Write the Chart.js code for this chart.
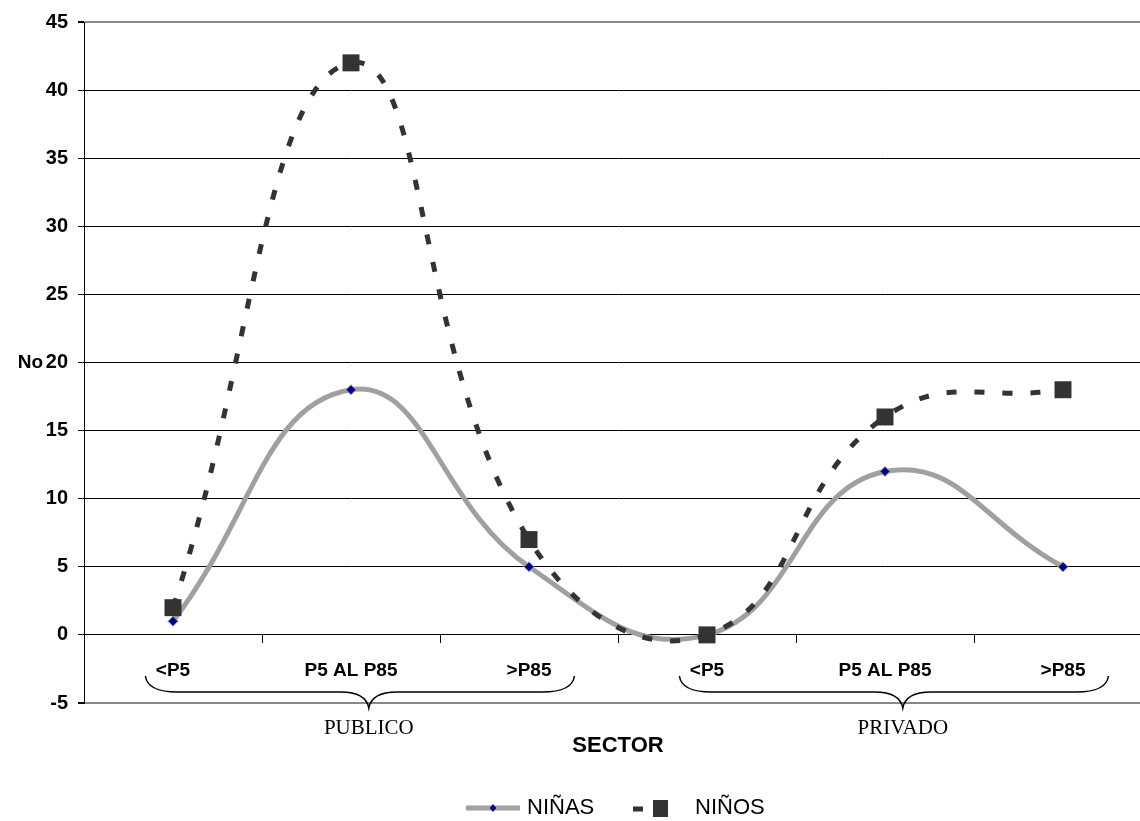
<!DOCTYPE html>
<html>
<head>
<meta charset="utf-8">
<title>NIÑAS / NIÑOS por sector</title>
<script src="https://cdn.jsdelivr.net/npm/chart.js@4.4.1/dist/chart.umd.min.js"></script>
<style>
  html, body { margin:0; padding:0; background:#fff; overflow:hidden; }
  #wrap { position:relative; width:1164px; height:821px; }
</style>
</head>
<body>
<div id="wrap"><canvas id="chart"></canvas></div>
<script>
// data
const categories = ['<P5', 'P5 AL P85', '>P85', '<P5', 'P5 AL P85', '>P85'];
const groups = ['PUBLICO', 'PRIVADO'];
const groupRanges = [[0, 1, 2], [3, 4, 5]];
const ninas = [1, 18, 5, 0, 12, 5];
const ninos = [2, 42, 7, 0, 16, 18];
const yMin = -5, yMax = 45, yStep = 5;

const SANS = '"Liberation Sans", Arial, sans-serif';
const SERIF = '"Liberation Serif", "Times New Roman", serif';
const GRAY = '#a0a0a0';
const DARK = '#333333';
const NAVY = '#00008b';

// curly brace under a group of categories
function drawBrace(ctx, x0, x1, tip, yTop, yMid, yTip){
  ctx.beginPath();
  ctx.moveTo(x0, yTop);
  ctx.quadraticCurveTo(x0 + 2, yMid, x0 + 32, yMid);
  ctx.lineTo(tip - 28, yMid);
  ctx.quadraticCurveTo(tip - 3, yMid, tip, yTip);
  ctx.quadraticCurveTo(tip + 3, yMid, tip + 28, yMid);
  ctx.lineTo(x1 - 32, yMid);
  ctx.quadraticCurveTo(x1 - 2, yMid, x1, yTop);
  ctx.stroke();
}

const extras = {
  id: 'extras',
  afterDraw(chart){
    const ctx = chart.ctx;
    const x = chart.scales.x;
    const y = chart.scales.y;
    const step = x.getPixelForValue(1) - x.getPixelForValue(0);
    ctx.save();

    // braces + group names
    ctx.strokeStyle = '#000';
    ctx.lineWidth = 1.5;
    groupRanges.forEach((r, i) => {
      const x0 = x.getPixelForValue(r[0]) - 0.155 * step;
      const x1 = x.getPixelForValue(r[2]) + 0.255 * step;
      const tip = x.getPixelForValue(r[1]) + 0.1 * step;
      drawBrace(ctx, x0, x1, tip, 676, 692, 708);
      ctx.fillStyle = '#000';
      ctx.font = '21px ' + SERIF;
      ctx.textAlign = 'center';
      ctx.textBaseline = 'middle';
      ctx.fillText(groups[i], tip, 728);
    });

    // axis titles
    ctx.fillStyle = '#000';
    ctx.font = 'bold 22px ' + SANS;
    ctx.textAlign = 'center';
    ctx.textBaseline = 'middle';
    ctx.fillText('SECTOR', 618, 746);
    ctx.font = 'bold 19px ' + SANS;
    ctx.textAlign = 'right';
    ctx.fillText('No', 43, y.getPixelForValue(20));

    // legend
    const ly = 808;
    ctx.strokeStyle = GRAY;
    ctx.lineWidth = 5;
    ctx.beginPath(); ctx.moveTo(466, ly); ctx.lineTo(520, ly); ctx.stroke();
    ctx.fillStyle = NAVY;
    ctx.strokeStyle = GRAY;
    ctx.lineWidth = 1;
    ctx.beginPath();
    ctx.moveTo(493, ly - 4); ctx.lineTo(497, ly); ctx.lineTo(493, ly + 4); ctx.lineTo(489, ly);
    ctx.closePath(); ctx.fill(); ctx.stroke();

    ctx.strokeStyle = DARK;
    ctx.lineWidth = 5;
    ctx.setLineDash([10, 10]);
    ctx.beginPath(); ctx.moveTo(633, ly + 1); ctx.lineTo(671, ly + 1); ctx.stroke();
    ctx.setLineDash([]);
    ctx.fillStyle = DARK;
    ctx.fillRect(653, ly - 8, 15, 17);

    ctx.fillStyle = '#000';
    ctx.font = '22px ' + SANS;
    ctx.textAlign = 'left';
    ctx.textBaseline = 'middle';
    ctx.fillText('NIÑAS', 527, ly);
    ctx.fillText('NIÑOS', 695, ly);
    ctx.restore();
  }
};

const chart = new Chart(document.getElementById('chart'), {
  type: 'line',
  data: {
    labels: categories,
    datasets: [
      {
        label: 'NIÑAS', data: ninas, order: 1,
        borderColor: GRAY, borderWidth: 5, tension: 0.45,
        pointStyle: 'rectRot', pointRadius: 5, pointHoverRadius: 5,
        pointBackgroundColor: NAVY, pointBorderColor: GRAY, pointBorderWidth: 1
      },
      {
        label: 'NIÑOS', data: ninos, order: 0,
        borderColor: DARK, borderWidth: 5, borderDash: [10, 18], tension: 0.45,
        pointStyle: 'rect', pointRadius: 12, pointHoverRadius: 12,
        pointBackgroundColor: DARK, pointBorderColor: DARK, pointBorderWidth: 0
      }
    ]
  },
  options: {
    responsive: true,
    maintainAspectRatio: false,
    animation: false,
    layout: { padding: { top: 22, bottom: 118, left: 0, right: 4 } },
    plugins: { legend: { display: false }, tooltip: { enabled: false } },
    scales: {
      x: {
        type: 'category',
        position: { y: 0 },
        offset: true,
        grid: { offset: true, drawOnChartArea: false, drawTicks: true, tickLength: 8, color: '#000' },
        border: { display: true, color: '#000', width: 1 },
        ticks: { color: '#000', font: { family: SANS, size: 19, weight: 'bold' }, padding: 16, autoSkip: false, maxRotation: 0 }
      },
      y: {
        min: yMin, max: yMax,
        afterFit(scale){ scale.width = 84; },
        grid: {
          color: c => (c.tick && (c.tick.value === yMin || c.tick.value === yMax)) ? '#888' : '#000',
          lineWidth: c => (c.tick && (c.tick.value === yMin || c.tick.value === yMax)) ? 2 : 1,
          tickColor: '#000', tickLength: 6
        },
        border: { display: true, color: '#000', width: 1 },
        ticks: { stepSize: yStep, color: '#000', padding: 10, font: { family: SANS, size: 20, weight: 'bold' } }
      }
    }
  },
  plugins: [extras]
});
</script>
</body>
</html>
